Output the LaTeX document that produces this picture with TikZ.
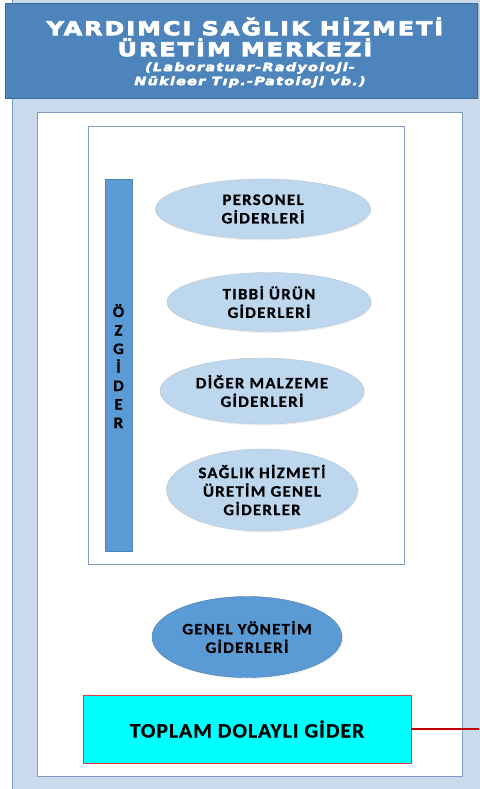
\documentclass[tikz,border=0pt]{standalone}
\usepackage{fontspec}
\setmainfont{Carlito}
\newfontfamily\titlefont[FakeStretch=1.25, LetterSpace=11, FakeBold=4]{DejaVu Sans}
\newfontfamily\labelfont[FakeStretch=1.05, LetterSpace=8, FakeBold=0.8]{Carlito}
\newfontfamily\totalfont[FakeStretch=1.05, LetterSpace=5, FakeBold=0.8]{Carlito}
\usetikzlibrary{shapes.geometric, shadows}
\definecolor{panelblue}{HTML}{C8DAEC}
\definecolor{panelline}{HTML}{7E9CC4}
\definecolor{headblue}{HTML}{4D84BC}
\definecolor{barblue}{HTML}{5B9BD5}
\definecolor{ellblue}{HTML}{BDD7EE}
\definecolor{ellline}{HTML}{B8C4D0}
\definecolor{totalred}{HTML}{E03C3C}
\definecolor{totalfill}{HTML}{00FFFF}
\definecolor{linkred}{HTML}{C00000}

\begin{document}
\begin{tikzpicture}[x=1pt, y=-1pt,
  titlebox/.style={draw=headblue!80!black, fill=headblue, text=white, align=center, inner sep=0pt,
    drop shadow={opacity=0.3, shadow xshift=1.5pt, shadow yshift=-1.5pt}},
  framebox/.style={draw=panelline, line width=0.8pt, fill=white,
    drop shadow={opacity=0.15, shadow xshift=1pt, shadow yshift=-1pt}},
  costell/.style={ellipse, draw=ellline, fill=ellblue, inner sep=0pt, align=center,
    font=\labelfont\bfseries\fontsize{16}{18.5}\selectfont,
    drop shadow={opacity=0.12, shadow xshift=1pt, shadow yshift=-1.5pt}},
  mainell/.style={costell, fill=barblue, draw=barblue!80!black},
  barbox/.style={draw=barblue!85!black, fill=barblue, inner sep=0pt,
    drop shadow={opacity=0.15, shadow xshift=1pt, shadow yshift=-1pt}},
  totalbox/.style={draw=totalred, fill=totalfill, inner sep=0pt, font=\totalfont\bfseries\fontsize{20.5}{24}\selectfont,
    drop shadow={opacity=0.15, shadow xshift=1pt, shadow yshift=-1pt}}]
  \useasboundingbox (0,0) rectangle (479,789);
  % background panel and frames
  \fill[panelblue] (12,-5) rectangle (490,800);
  \draw[panelline, line width=0.8pt] (12,-5) -- (12,800);
  \node[titlebox, minimum width=472pt, minimum height=95pt] (head) at (241,50.5) {};
  \node[text=white, align=center, font=\titlefont\bfseries\fontsize{19}{21}\selectfont] (headtxt) at (245,37)
    {YARDIMCI SAĞLIK HİZMETİ\\ÜRETİM MERKEZİ};
  \node[text=white, align=center, font=\titlefont\bfseries\itshape\fontsize{11.5}{14}\selectfont] (subtxt) at (250,75)
    {(Laboratuar-Radyoloji-\\Nükleer Tıp.-Patoloji vb.)};
  \draw[framebox] (37,112) rectangle (462,776);
  \draw[framebox] (88,126) rectangle (404,564);
  % direct costs
  \node[barbox, minimum width=27pt, minimum height=372pt] (bar) at (118.5,365) {};
  \node[align=center, font=\labelfont\bfseries\fontsize{16}{18.5}\selectfont] (bartxt) at (118.5,366)
    {Ö\\Z\\G\\İ\\D\\E\\R};
  \node[costell, minimum width=215pt, minimum height=60pt] (pers) at (263,209) {PERSONEL\\GİDERLERİ};
  \node[costell, minimum width=204pt, minimum height=59pt] (tibbi) at (269,302) {TIBBİ ÜRÜN\\GİDERLERİ};
  \node[costell, minimum width=204pt, minimum height=66pt] (diger) at (262,391) {DİĞER MALZEME\\GİDERLERİ};
  \node[costell, minimum width=191pt, minimum height=82pt] (genel) at (262,490) {SAĞLIK HİZMETİ\\ÜRETİM GENEL\\GİDERLER};
  % indirect costs
  \node[mainell, minimum width=190pt, minimum height=81pt] (yonetim) at (247,637) {GENEL YÖNETİM\\GİDERLERİ};
  \node[totalbox, minimum width=328pt, minimum height=68pt] (total) at (247,729) {TOPLAM DOLAYLI GİDER};
  \coordinate (out) at (479,729);
  \draw[linkred, line width=1.6pt] (total.east) -- (out);
\end{tikzpicture}
\end{document}
